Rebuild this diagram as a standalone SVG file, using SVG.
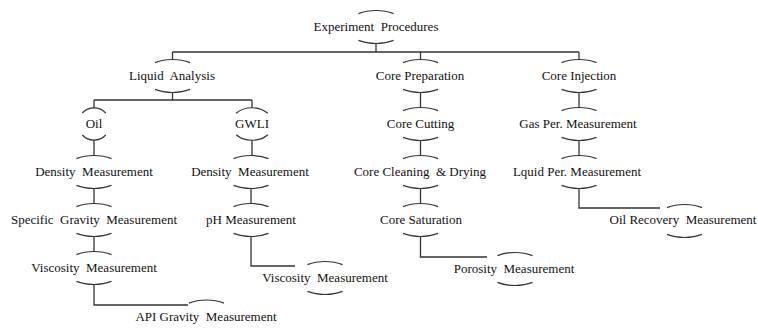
<svg xmlns="http://www.w3.org/2000/svg" width="758" height="331" viewBox="0 0 758 331" xml:space="preserve">
<style>
text{font-family:"Liberation Serif","Times New Roman",serif;font-size:13px;fill:#111;text-anchor:middle;white-space:pre}
.arc{fill:none;stroke:#333;stroke-width:1.2}
.con{fill:none;stroke:#333;stroke-width:1.3}
</style>
<defs>
<path id="top" d="M -17.5 -13.4 A 30 16.5 0 0 1 17.5 -13.4"/>
<path id="bot" d="M -17.5 13.4 A 30 16.5 0 0 0 17.5 13.4"/>
</defs>
<rect width="758" height="331" fill="#fff"/>
<g id="connectors" class="con">
<path d="M376 43.5 V52 M172.5 52 H579 M172.5 52 V59.5 M420.5 52 V59.5 M579 52 V59.5"/>
<path d="M172.5 92.5 V100 M94 100 H252 M94 100 V108 M252 100 V108"/>
<path d="M420.5 92.5 V107.5 M579 92.5 V107.5"/>
<path d="M94 140 V155.5 M252 140 V155.5 M420.5 140.5 V155.5 M579 140.5 V155.5"/>
<path d="M94 188.5 V203.5 M251 188.5 V203.5 M420.5 188.5 V203.5"/>
<path d="M579 188.5 V208 H660"/>
<path d="M94 236.5 V251.5"/>
<path d="M251 236.5 V266 H295"/>
<path d="M420.5 236.5 V257 H487"/>
<path d="M94 284.5 V305 H188"/>
</g>
<g id="n-experiment"><use href="#top" class="arc" x="376" y="27"/><use href="#bot" class="arc" x="376" y="27"/><text x="376" y="31">Experiment  Procedures</text></g>
<g id="n-liquid"><use href="#top" class="arc" x="172.5" y="76"/><use href="#bot" class="arc" x="172.5" y="76"/><text x="172" y="80">Liquid  Analysis</text></g>
<g id="n-coreprep"><use href="#top" class="arc" x="420.5" y="76"/><use href="#bot" class="arc" x="420.5" y="76"/><text x="420" y="80">Core Preparation</text></g>
<g id="n-coreinj"><use href="#top" class="arc" x="579" y="76"/><use href="#bot" class="arc" x="579" y="76"/><text x="579" y="80">Core Injection</text></g>
<g id="n-oil"><path class="arc" d="M82.3 113 A16 16 0 0 1 105.7 113 M82.3 135 A16 16 0 0 0 105.7 135"/><text x="94" y="128">Oil</text></g>
<g id="n-gwli"><path class="arc" d="M236.2 113.3 A21 16.3 0 0 1 267.8 113.3 M236.2 134.7 A21 16.3 0 0 0 267.8 134.7"/><text x="252" y="128">GWLI</text></g>
<g id="n-corecut"><use href="#top" class="arc" x="420.5" y="124"/><use href="#bot" class="arc" x="420.5" y="124"/><text x="420.5" y="128">Core Cutting</text></g>
<g id="n-gasper"><use href="#top" class="arc" x="579" y="124"/><use href="#bot" class="arc" x="579" y="124"/><text x="578" y="128">Gas Per. Measurement</text></g>
<g id="n-density1"><use href="#top" class="arc" x="94" y="172"/><use href="#bot" class="arc" x="94" y="172"/><text x="94" y="176">Density  Measurement</text></g>
<g id="n-density2"><use href="#top" class="arc" x="251" y="172"/><use href="#bot" class="arc" x="251" y="172"/><text x="250" y="176">Density  Measurement</text></g>
<g id="n-cleaning"><use href="#top" class="arc" x="420.5" y="172"/><use href="#bot" class="arc" x="420.5" y="172"/><text x="420" y="176">Core Cleaning  &amp; Drying</text></g>
<g id="n-lquidper"><use href="#top" class="arc" x="579" y="172"/><use href="#bot" class="arc" x="579" y="172"/><text x="577" y="176">Lquid Per. Measurement</text></g>
<g id="n-specific"><use href="#top" class="arc" x="94" y="220"/><use href="#bot" class="arc" x="94" y="220"/><text x="94" y="224">Specific  Gravity  Measurement</text></g>
<g id="n-ph"><use href="#top" class="arc" x="251" y="220"/><use href="#bot" class="arc" x="251" y="220"/><text x="251" y="224">pH Measurement</text></g>
<g id="n-saturation"><use href="#top" class="arc" x="420.5" y="220"/><use href="#bot" class="arc" x="420.5" y="220"/><text x="421" y="224">Core Saturation</text></g>
<g id="n-oilrecovery"><use href="#top" class="arc" x="684.5" y="221"/><use href="#bot" class="arc" x="684.5" y="221"/><text x="683" y="224">Oil Recovery  Measurement</text></g>
<g id="n-viscosity1"><use href="#top" class="arc" x="94" y="268"/><use href="#bot" class="arc" x="94" y="268"/><text x="94" y="272">Viscosity  Measurement</text></g>
<g id="n-viscosity2"><use href="#top" class="arc" x="325" y="278"/><use href="#bot" class="arc" x="325" y="278"/><text x="325" y="282">Viscosity  Measurement</text></g>
<g id="n-porosity"><use href="#top" class="arc" x="515" y="269"/><use href="#bot" class="arc" x="515" y="269"/><text x="514" y="273">Porosity  Measurement</text></g>
<g id="n-api"><use href="#top" class="arc" x="206.5" y="316.5"/><text x="206" y="321">API Gravity  Measurement</text></g>
</svg>
